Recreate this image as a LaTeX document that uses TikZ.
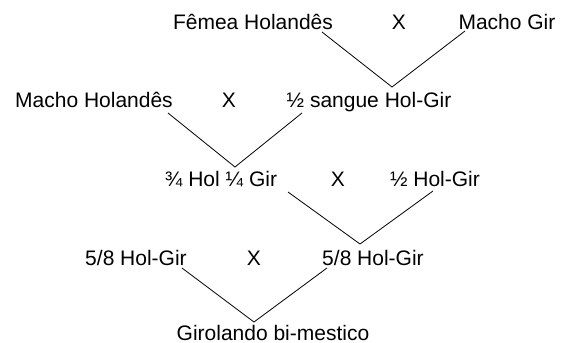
\documentclass[tikz,border=0pt]{standalone}
\usepackage{fontspec}
\setmainfont{Liberation Sans}
\begin{document}
\begin{tikzpicture}[x=1pt,y=-1pt,
  lbl/.style={anchor=base,inner sep=0pt,font=\fontsize{21}{25}\selectfont},
  link/.style={draw=black,line width=0.8pt}]
\useasboundingbox (0,0) rectangle (566,343);
% row 1
\node[lbl] (fh) at (253,29) {Fêmea Holandês};
\node[lbl] (x1) at (399,29) {X};
\node[lbl] (mg) at (507,29) {Macho Gir};
% row 2
\node[lbl] (mh) at (94,107) {Macho Holandês};
\node[lbl] (x2) at (229,107) {X};
\node[lbl] (sh) at (369,107) {½ sangue Hol-Gir};
% row 3
\node[lbl] (tq) at (221,186) {¾ Hol ¼ Gir};
\node[lbl] (x3) at (338,186) {X};
\node[lbl] (mh2) at (435,186) {½ Hol-Gir};
% row 4
\node[lbl] (c1) at (136,265) {5/8 Hol-Gir};
\node[lbl] (x4) at (254,265) {X};
\node[lbl] (c2) at (373,265) {5/8 Hol-Gir};
% row 5
\node[lbl] (gb) at (273,340) {Girolando bi-mestico};
% joints
\coordinate (a1) at (322,32);
\coordinate (j1) at (392,87);
\coordinate (b1) at (465,31);
\coordinate (a2) at (168,113);
\coordinate (j2) at (235,167);
\coordinate (b2) at (302,113);
\coordinate (a3) at (288,192);
\coordinate (j3) at (360,244);
\coordinate (b3) at (433,191);
\coordinate (a4) at (182,268);
\coordinate (j4) at (254,322);
\coordinate (b4) at (327,268);
\draw[link] (a1) -- (j1) -- (b1);
\draw[link] (a2) -- (j2) -- (b2);
\draw[link] (a3) -- (j3) -- (b3);
\draw[link] (a4) -- (j4) -- (b4);
\end{tikzpicture}
\end{document}
